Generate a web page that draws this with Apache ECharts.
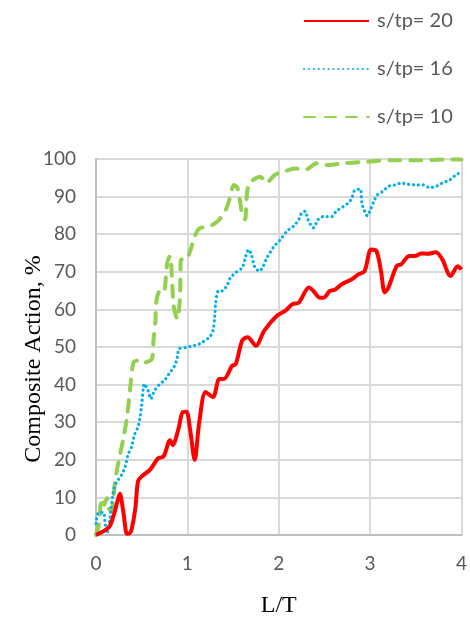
<!DOCTYPE html>
<html>
<head>
<meta charset="utf-8">
<script src="https://cdn.jsdelivr.net/npm/echarts@6/dist/echarts.min.js"></script>
<style>
  html, body { margin: 0; padding: 0; background: #fff; }
  #chart { width: 470px; height: 623px; }
</style>
</head>
<body>
<div id="chart"></div>
<script>
// s/tp = 20 (red, solid)
const redX = [0, 0.14, 0.19, 0.23, 0.26, 0.3, 0.34, 0.37, 0.39, 0.43, 0.46, 0.5, 0.59, 0.68, 0.74, 0.81, 0.84, 0.9, 0.95, 0.99, 1.03, 1.08, 1.13, 1.2, 1.28, 1.35, 1.4, 1.49, 1.53, 1.6, 1.66, 1.75, 1.84, 1.98, 2.07, 2.15, 2.22, 2.33, 2.38, 2.45, 2.49, 2.56, 2.62, 2.69, 2.8, 2.87, 2.94, 3.01, 3.07, 3.12, 3.16, 3.2, 3.29, 3.34, 3.43, 3.49, 3.56, 3.63, 3.72, 3.79, 3.88, 3.96, 4.0];
const redY = [0, 2, 5, 8.5, 11, 6, 0.3, 0.5, 1.5, 7, 14.3, 15.6, 17.3, 20.4, 20.9, 25.2, 23.9, 28, 32.7, 32.8, 28, 20, 30, 38, 36.7, 41.5, 41.5, 45, 45.5, 51.7, 52.6, 50.3, 54.3, 58.3, 59.6, 61.4, 61.8, 65.8, 64.9, 63.1, 63.1, 64.9, 65.3, 66.7, 68, 69.3, 70.2, 75.9, 75.5, 70, 64.5, 65.8, 71.5, 72, 74.2, 74.2, 74.9, 74.8, 75.2, 73.3, 68.9, 71.5, 70.6];

// s/tp = 16 (blue, dotted)
const blueX = [0, 0.03, 0.08, 0.1, 0.12, 0.15, 0.19, 0.22, 0.28, 0.32, 0.35, 0.39, 0.42, 0.46, 0.48, 0.5, 0.53, 0.57, 0.6, 0.64, 0.7, 0.75, 0.8, 0.86, 0.89, 0.91, 0.99, 1.06, 1.13, 1.24, 1.28, 1.3, 1.31, 1.34, 1.38, 1.44, 1.47, 1.53, 1.6, 1.64, 1.67, 1.7, 1.74, 1.79, 1.83, 1.87, 1.95, 2.02, 2.09, 2.16, 2.22, 2.25, 2.29, 2.32, 2.38, 2.43, 2.49, 2.58, 2.63, 2.71, 2.76, 2.8, 2.83, 2.89, 2.91, 2.94, 2.97, 3.01, 3.04, 3.08, 3.14, 3.2, 3.27, 3.34, 3.41, 3.5, 3.58, 3.65, 3.72, 3.79, 3.87, 3.94, 4.0];
const blueY = [3, 6, 6, 3, 0.5, 4, 11.6, 13.8, 16, 18.2, 21.3, 23.5, 26.5, 28.8, 31, 34.5, 40.2, 38.4, 36.2, 38.4, 40.2, 41.1, 42.9, 45, 47.3, 49.5, 49.9, 50.3, 50.8, 52.6, 54.3, 58.3, 61.8, 64.9, 64.9, 66.7, 68.4, 69.8, 71.1, 74.2, 75.9, 74.6, 71.1, 70.2, 71.5, 73.7, 76.8, 78.6, 80.8, 82.1, 83.9, 85.6, 86.1, 83.9, 81.7, 83.9, 84.7, 84.7, 86.1, 87.4, 88.3, 89.6, 91.6, 92, 88.3, 86.1, 84.9, 86.9, 88.7, 90.5, 91.4, 92.7, 93.1, 93.6, 93.3, 93.1, 93.1, 92.4, 92.7, 93.6, 94.4, 95.8, 96.5];

// s/tp = 10 (green, dashed)
const greenX = [0, 0.03, 0.05, 0.07, 0.09, 0.12, 0.14, 0.17, 0.21, 0.25, 0.3, 0.34, 0.37, 0.41, 0.46, 0.5, 0.61, 0.63, 0.65, 0.66, 0.7, 0.74, 0.78, 0.81, 0.83, 0.85, 0.89, 0.92, 0.93, 0.99, 1.03, 1.08, 1.13, 1.24, 1.33, 1.42, 1.46, 1.51, 1.55, 1.6, 1.63, 1.67, 1.8, 1.86, 1.96, 2.05, 2.18, 2.29, 2.42, 2.54, 2.72, 2.98, 3.27, 3.56, 3.92, 4.0];
const greenY = [0, 2.7, 8, 9.8, 8, 9.8, 7.1, 6.3, 14.6, 19.9, 25.7, 31.5, 38, 45.9, 46.4, 45.8, 46.8, 52, 57, 62, 64.9, 64.5, 72.4, 74.2, 69, 60.9, 57.4, 63.6, 73.3, 73.3, 75.5, 79.4, 81.5, 82.1, 83.4, 86.5, 89.2, 93.1, 92.2, 85.2, 83.9, 93.1, 95.3, 93.6, 95.8, 96.6, 97.5, 97.1, 98.9, 98.4, 98.9, 99.3, 99.7, 99.7, 99.9, 99.9];

const xTicks = [0, 1, 2, 3, 4];

const zip = (xs, ys) => xs.map((x, i) => [x, ys[i]]);

const chart = echarts.init(document.getElementById('chart'));

const labelFont = { color: '#595959', fontSize: 19, fontFamily: 'Lato' };

chart.setOption({
  animation: false,
  backgroundColor: '#fff',
  legend: {
    orient: 'vertical',
    left: 303,
    top: 11,
    padding: 0,
    itemWidth: 65,
    itemHeight: 14,
    itemGap: 28,
    itemStyle: { opacity: 0 },
    textStyle: { color: '#595959', fontSize: 20, lineHeight: 20, fontFamily: 'Lato', padding: [0, 0, 0, 3] },
    data: ['s/tp= 20', 's/tp= 16', 's/tp= 10']
  },
  grid: { left: 96, right: 6, top: 159, bottom: 86 },
  xAxis: {
    type: 'value',
    min: 0, max: 4, interval: 1,
    name: 'L/T',
    nameLocation: 'middle',
    nameGap: 59,
    nameMoveOverlap: false,
    nameTextStyle: { color: '#000', fontSize: 24, fontFamily: 'Liberation Serif' },
    axisLine: { lineStyle: { color: '#BFBFBF', width: 2 } },
    axisTick: { show: false },
    axisLabel: Object.assign({ margin: 19, formatter: v => xTicks.includes(v) ? String(v) : '' }, labelFont),
    splitLine: { show: true, lineStyle: { color: '#D9D9D9', width: 2 } }
  },
  yAxis: {
    type: 'value',
    min: 0, max: 100, interval: 10,
    name: 'Composite Action, %',
    nameLocation: 'middle',
    nameGap: 50,
    nameRotate: 90,
    nameMoveOverlap: false,
    nameTextStyle: { color: '#000', fontSize: 24, fontFamily: 'Liberation Serif', padding: [0, 24, 0, 0] },
    axisLine: { show: true, lineStyle: { color: '#BFBFBF', width: 2 } },
    axisTick: { show: false },
    axisLabel: Object.assign({ margin: 20 }, labelFont),
    splitLine: { show: true, lineStyle: { color: '#D9D9D9', width: 2 } }
  },
  series: [
    {
      name: 's/tp= 20', type: 'line', symbol: 'none', smooth: 0.3,
      data: zip(redX, redY),
      lineStyle: { color: '#FF0000', width: 4 },
      itemStyle: { color: '#FF0000' }, z: 3
    },
    {
      name: 's/tp= 16', type: 'line', symbol: 'none', smooth: 0.3,
      data: zip(blueX, blueY),
      lineStyle: { color: '#00B0F0', width: 3.2, type: [0.1, 4.8], cap: 'round' },
      itemStyle: { color: '#00B0F0' }, z: 2
    },
    {
      name: 's/tp= 10', type: 'line', symbol: 'none', smooth: 0.3,
      data: zip(greenX, greenY),
      lineStyle: { color: '#92D050', width: 4, type: [11, 10], cap: 'round' },
      itemStyle: { color: '#92D050' }, z: 1
    }
  ]
});
</script>
</body>
</html>
